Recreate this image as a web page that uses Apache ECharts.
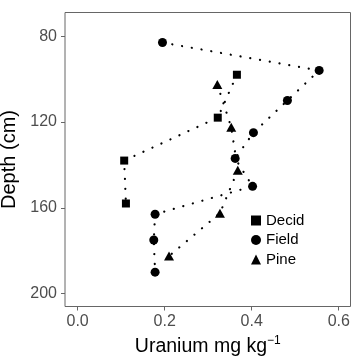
<!DOCTYPE html>
<html>
<head>
<meta charset="utf-8">
<script src="https://cdn.jsdelivr.net/npm/echarts@6/dist/echarts.min.js"></script>
<style>
  html, body { margin: 0; padding: 0; background: #fff; }
  #chart { width: 352px; height: 356px; }
</style>
</head>
<body>
<div id="chart"></div>
<script>
const xTicks = [0.0, 0.2, 0.4, 0.6];
const yTicks = [80, 120, 160, 200];

const decidU = [0.366, 0.322, 0.107, 0.111];
const decidDepth = [98, 118, 138, 158];
const fieldU = [0.195, 0.555, 0.482, 0.404, 0.362, 0.402, 0.178, 0.175, 0.178];
const fieldDepth = [83, 96, 110, 125, 137, 150, 163, 175, 190];
const pineU = [0.321, 0.353, 0.368, 0.327, 0.210];
const pineDepth = [102.5, 122.5, 142.5, 162.5, 182.5];

const font = "Liberation Sans, Arial, sans-serif";

function pairs(xs, ys) {
  return xs.map((v, i) => [v, ys[i]]);
}

function makeSeries(name, xs, ys, symbol, size) {
  return {
    name: name,
    type: "line",
    data: pairs(xs, ys),
    symbol: symbol,
    symbolSize: size,
    itemStyle: {color: "#000"},
    lineStyle: {color: "#000", width: 2.2, type: [0.1, 9.8], cap: "round"},
    emphasis: {disabled: true},
    animation: false
  };
}

const chart = echarts.init(document.getElementById("chart"));
chart.setOption({
  textStyle: {fontFamily: font},
  grid: {
    left: 65, right: 1.5, top: 12.5, bottom: 49.5,
    containLabel: false,
    outerBoundsMode: "none",
    show: true, borderColor: "#666", borderWidth: 1, backgroundColor: "#fff"
  },
  legend: {
    orient: "vertical",
    left: 246,
    top: 208,
    itemWidth: 10,
    itemHeight: 10,
    itemGap: 4.5,
    textStyle: {fontSize: 15, color: "#000", fontFamily: font},
    data: [
      {name: "Decid", icon: "rect"},
      {name: "Field", icon: "circle"},
      {name: "Pine", icon: "triangle"}
    ]
  },
  xAxis: {
    type: "value",
    min: -0.029,
    max: 0.627,
    name: "{a|Uranium mg kg}{b|−1}",
    nameLocation: "middle",
    nameGap: 24,
    nameTextStyle: {
      rich: {
        a: {fontSize: 19.5, color: "#000", fontFamily: font, verticalAlign: "bottom"},
        b: {fontSize: 12, color: "#000", fontFamily: font, verticalAlign: "top", padding: [0, 0, 10, 0]}
      }
    },
    axisLine: {show: false, onZero: false},
    splitLine: {show: false},
    axisTick: {show: true, length: 4, lineStyle: {color: "#666"}, customValues: xTicks},
    axisLabel: {
      fontSize: 16, color: "#4d4d4d", margin: 7, customValues: xTicks,
      formatter: v => v.toFixed(1)
    }
  },
  yAxis: {
    type: "value",
    inverse: true,
    min: 69,
    max: 206,
    name: "Depth (cm)",
    nameLocation: "middle",
    nameRotate: 90,
    nameGap: 44,
    nameTextStyle: {fontSize: 20, color: "#000", fontFamily: font},
    axisLine: {show: false, onZero: false},
    splitLine: {show: false},
    axisTick: {show: true, length: 4, lineStyle: {color: "#666"}, customValues: yTicks},
    axisLabel: {fontSize: 16, color: "#4d4d4d", margin: 8, customValues: yTicks}
  },
  series: [
    makeSeries("Decid", decidU, decidDepth, "rect", 8),
    makeSeries("Field", fieldU, fieldDepth, "circle", 9),
    makeSeries("Pine", pineU, pineDepth, "triangle", [10, 9])
  ]
});
</script>
</body>
</html>
